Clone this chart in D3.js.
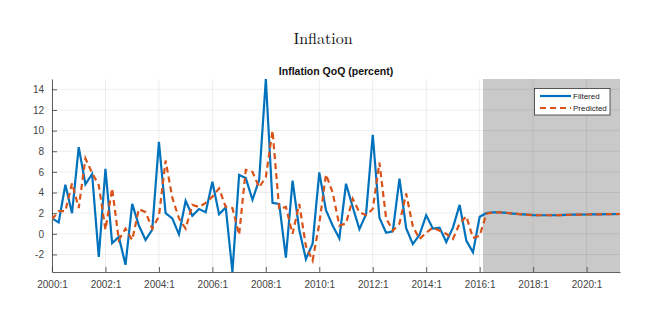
<!DOCTYPE html>
<html><head><meta charset="utf-8">
<script src="https://cdn.jsdelivr.net/npm/d3@7"></script>
<style>html,body{margin:0;padding:0;background:#fff;}svg{display:block;}</style>
</head><body>
<svg id="chart" width="645" height="324"></svg>
<script>
// Quarterly data, index 0 = 2000:1 ... 85 = 2021:2
const filtered = [
  1.5, 1.1, 4.75, 2.0, 8.4, 4.8, 5.8, -2.25, 6.3, -0.9, -0.3, -3.0, 2.9, 0.8, -0.6, 0.4,
  8.9, 2.0, 1.5, -0.05, 3.2, 1.75, 2.4, 2.1, 5.05, 1.9, 2.55, -3.7, 5.7, 5.4, 3.3, 5.2,
  15.0, 3.0, 2.9, -2.3, 5.15, 0.4, -2.45, -0.95, 5.95, 2.3, 0.8, -0.45, 4.85, 2.6, 0.45, 1.9,
  9.6, 1.55, 0.1, 0.25, 5.35, 0.55, -1.0, -0.1, 1.8, 0.5, 0.6, -0.8, 0.6, 2.8, -0.65, -1.8,
  1.65,
  2.0, 2.08, 2.08, 2.03, 1.96, 1.9, 1.85, 1.81, 1.8, 1.8, 1.8, 1.81, 1.83, 1.85, 1.86, 1.87,
  1.88, 1.89, 1.9, 1.91, 1.92
];
const predicted = [
  1.4, 2.2, 2.2, 4.9, 2.5, 7.3, 5.9, 4.7, 0.4, 4.4, -0.6, 0.5, -0.6, 2.4, 2.1, 0.5,
  1.7, 7.1, 3.5, 1.5, 0.5, 2.8, 2.6, 3.0, 3.6, 4.4, 2.6, 2.5, -0.1, 6.2, 6.0, 4.5,
  5.5, 10.0, 2.4, 2.6, 0.0, 2.9, -1.2, -2.6, 1.0, 5.75, 4.0, 0.8, 1.0, 3.4, 2.1, 1.8,
  2.4, 6.9, 1.5, 0.3, 1.0, 3.9, 0.7, -0.5, 0.1, 0.6, 0.3, 0.0, -0.5, 1.0, 1.7, -0.4,
  -0.2,
  1.95, 2.06, 2.08, 2.03, 1.96, 1.9, 1.85, 1.81, 1.8, 1.8, 1.8, 1.81, 1.83, 1.85, 1.86, 1.87,
  1.88, 1.89, 1.9, 1.91, 1.92
];
const xTickIndex = [0, 8, 16, 24, 32, 40, 48, 56, 64, 72, 80];
const xTickLabels = ["2000:1","2002:1","2004:1","2006:1","2008:1","2010:1","2012:1","2014:1","2016:1","2018:1","2020:1"];
const yTicks = [-2, 0, 2, 4, 6, 8, 10, 12, 14];
const xDomain = [0, 85];
const yDomain = [-3.7, 15.0];
const forecastStart = 64.5;
const seriesNames = ["Filtered", "Predicted"];
const mainTitle = "Inflation";
const axTitle = "Inflation QoQ (percent)";

const svg = d3.select("#chart");
const L = 52, R = 620, T = 79, B = 272;
const x = d3.scaleLinear().domain(xDomain).range([L, R]);
const y = d3.scaleLinear().domain(yDomain).range([B, T]);
const blue = "#0072BD", orange = "#D95319", axisCol = "#3a3a3a";

svg.append("text").attr("x", 323).attr("y", 44).attr("text-anchor", "middle")
  .attr("font-family", "'Latin Modern Roman','CMU Serif','Liberation Serif','DejaVu Serif',serif")
  .attr("font-size", 16).attr("fill", "#111").text(mainTitle);
svg.append("text").attr("x", (L + R) / 2).attr("y", 75).attr("text-anchor", "middle")
  .attr("font-family", "'Liberation Sans',Arial,sans-serif").attr("font-weight", "bold")
  .attr("font-size", 10.5).attr("fill", "#111").text(axTitle);

// forecast shading
svg.append("rect").attr("x", x(forecastStart)).attr("y", T)
  .attr("width", x(xDomain[1]) - x(forecastStart)).attr("height", B - T)
  .attr("fill", "#c9c9c9");

// grid
const grid = svg.append("g").attr("stroke", "#000").attr("stroke-opacity", 0.1).attr("stroke-width", 0.7);
yTicks.forEach(v => grid.append("line").attr("x1", L).attr("x2", R).attr("y1", y(v)).attr("y2", y(v)));
xTickIndex.forEach(v => grid.append("line").attr("x1", x(v)).attr("x2", x(v)).attr("y1", T).attr("y2", B));

// axes
const xAxis = d3.axisBottom(x).tickValues(xTickIndex).tickSizeInner(-5).tickSizeOuter(0).tickPadding(9)
  .tickFormat((d, i) => xTickLabels[i]);
const gx = svg.append("g").attr("transform", `translate(0,${B})`).call(xAxis);
const yAxis = d3.axisLeft(y).tickValues(yTicks).tickSizeInner(-5).tickSizeOuter(0).tickPadding(8)
  .tickFormat(d3.format("d"));
const gy = svg.append("g").attr("transform", `translate(${L},0)`).call(yAxis);
[gx, gy].forEach(g => {
  g.selectAll("path").attr("stroke", axisCol).attr("stroke-width", 0.8);
  g.selectAll("line").attr("stroke", axisCol).attr("stroke-width", 0.8);
  g.selectAll("text").attr("font-family", "'Liberation Sans',Arial,sans-serif")
    .attr("font-size", 10).attr("fill", "#444");
});
gy.selectAll("text").text(d => d < 0 ? "-" + Math.abs(d) : d);

// lines
svg.append("defs").append("clipPath").attr("id", "clip")
  .append("rect").attr("x", L).attr("y", T - 2).attr("width", R - L).attr("height", B - T + 4);
const line = d3.line().x((d, i) => x(i)).y(d => y(d));
const plot = svg.append("g").attr("clip-path", "url(#clip)");
plot.append("path").datum(filtered).attr("d", line).attr("fill", "none")
  .attr("stroke", blue).attr("stroke-width", 2.2).attr("stroke-linejoin", "miter");
plot.append("path").datum(predicted).attr("d", line).attr("fill", "none")
  .attr("stroke", orange).attr("stroke-width", 2.2).attr("stroke-dasharray", "6,4");

// legend
const lg = svg.append("g");
lg.append("rect").attr("x", 534.5).attr("y", 88.5).attr("width", 75.5).attr("height", 26.5)
  .attr("fill", "#fff").attr("stroke", "#333").attr("stroke-width", 0.8);
const cols = [blue, orange], dashes = [null, "6,4"];
seriesNames.forEach((n, i) => {
  const yy = 96 + i * 12;
  lg.append("line").attr("x1", 540).attr("x2", 571).attr("y1", yy).attr("y2", yy)
    .attr("stroke", cols[i]).attr("stroke-width", 2.2).attr("stroke-dasharray", dashes[i]);
  lg.append("text").attr("x", 573).attr("y", yy + 3).attr("font-family", "'Liberation Sans',Arial,sans-serif")
    .attr("font-size", 8).attr("fill", "#222").text(n);
});
</script>
</body></html>
